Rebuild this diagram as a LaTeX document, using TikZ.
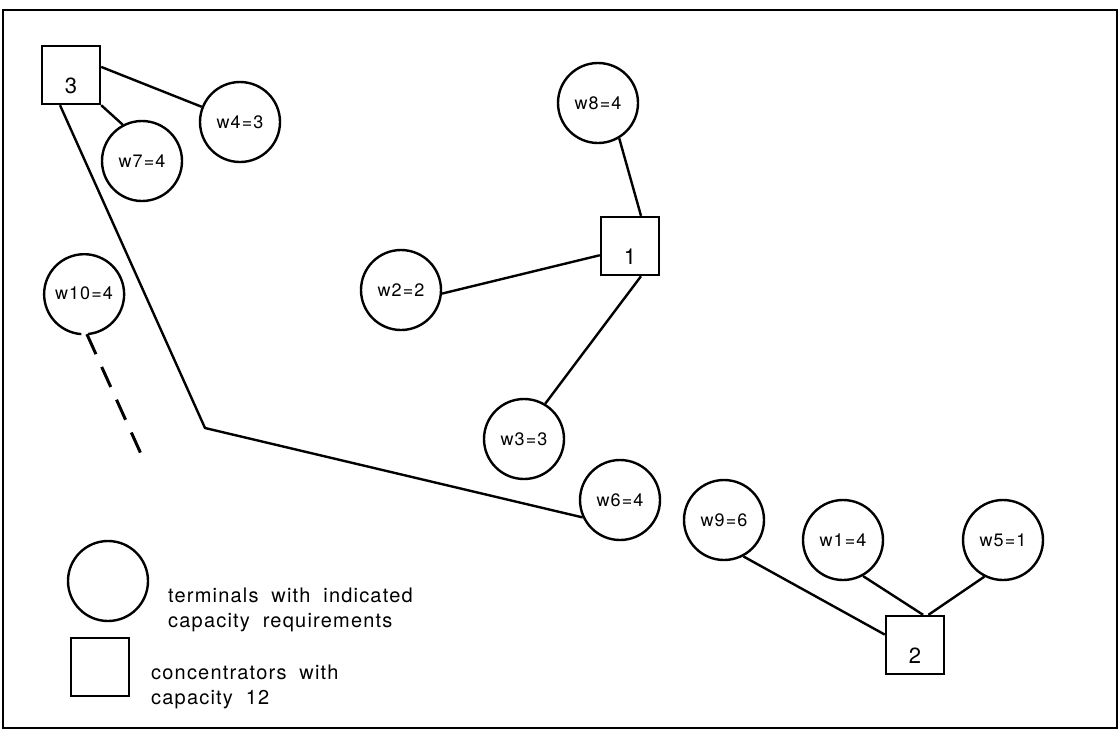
\documentclass[tikz,border=0pt]{standalone}
\usepackage{fontspec}
\setmainfont{TeX Gyre Heros}[LetterSpace=6]
\newfontfamily\legendfont{TeX Gyre Heros}[LetterSpace=6, WordSpace=1.9]
\tikzset{
terminalv1/.style={circle, draw=black!100,fill=none,line width=2.4pt, inner sep=0pt, minimum size= 80pt, font=\fontsize{18}{21}\selectfont},
concentratorv1/.style={rectangle, draw=black!100,fill=none,line width=2.4pt, inner sep=0pt, minimum size= 58pt, text height=36pt, text depth=0pt, font=\fontsize{22}{26}\selectfont},
legendtextv1/.style={anchor=west, align=left, inner sep=0pt, font=\legendfont\fontsize{20}{25}\selectfont},
}

\begin{document}
\begin{tikzpicture}[x=1pt, y=-1pt]
    \useasboundingbox (0,0) rectangle (1119,734);
    \draw[line width=2.4pt] (3,10) rectangle (1117,728);
    % concentrators
    \node[concentratorv1] at (71,75) (c3) {3};
    \node[concentratorv1] at (630,246) (c1) {1};
    \node[concentratorv1] at (915,645) (c2) {2};
    % terminals
    \node[terminalv1] at (240,122) (w4) {w4=3};
    \node[terminalv1] at (142,161) (w7) {w7=4};
    \node[terminalv1] at (598,103) (w8) {w8=4};
    \node[terminalv1] at (401,290) (w2) {w2=2};
    \node[terminalv1] at (524,439) (w3) {w3=3};
    \node[terminalv1] at (620,500) (w6) {w6=4};
    \node[terminalv1] at (724,520) (w9) {w9=6};
    \node[terminalv1] at (843,540) (w1) {w1=4};
    \node[terminalv1] at (1003,540) (w5) {w5=1};
    \node[terminalv1, draw=none] at (84,293) (w10) {w10=4};
    \draw[line width=2.4pt] (w10.-84) arc[start angle=-84, end angle=266, radius=40pt];
    % connections
    \coordinate (bend) at (205,428);
    \coordinate (w10end) at (146,465);
    \draw[line width=2.4pt, black] (c3.15)--(w4);
    \draw[line width=2.4pt, black] (c3.south east)--(w7.118);
    \draw[line width=2.4pt, black] (c3.-110)--(bend)--(w6.205);
    \draw[line width=2.4pt, black] (w8.-59)--(c1.70);
    \draw[line width=2.4pt, black] (w2.-5)--(c1.197);
    \draw[line width=2.4pt, black] (w3.59)--(c1.-70);
    \draw[line width=2.4pt, black] (w9.-62)--(c2.161);
    \draw[line width=2.4pt, black] (w1.-61)--(c2.75);
    \draw[line width=2.4pt, black] (w5.-117)--(c2.66);
    \draw[line width=3pt, black, dash pattern=on 22pt off 14pt] (w10.-86)--(w10end);
    % legend
    \node[terminalv1] at (108,581) (legcirc) {};
    \node[concentratorv1] at (100,667) (legsq) {};
    \node[legendtextv1] at (168,610) (legterm) {terminals with indicated\\capacity requirements};
    \node[legendtextv1] at (151,687) (legconc) {concentrators with\\capacity 12};
\end{tikzpicture}
\end{document}
